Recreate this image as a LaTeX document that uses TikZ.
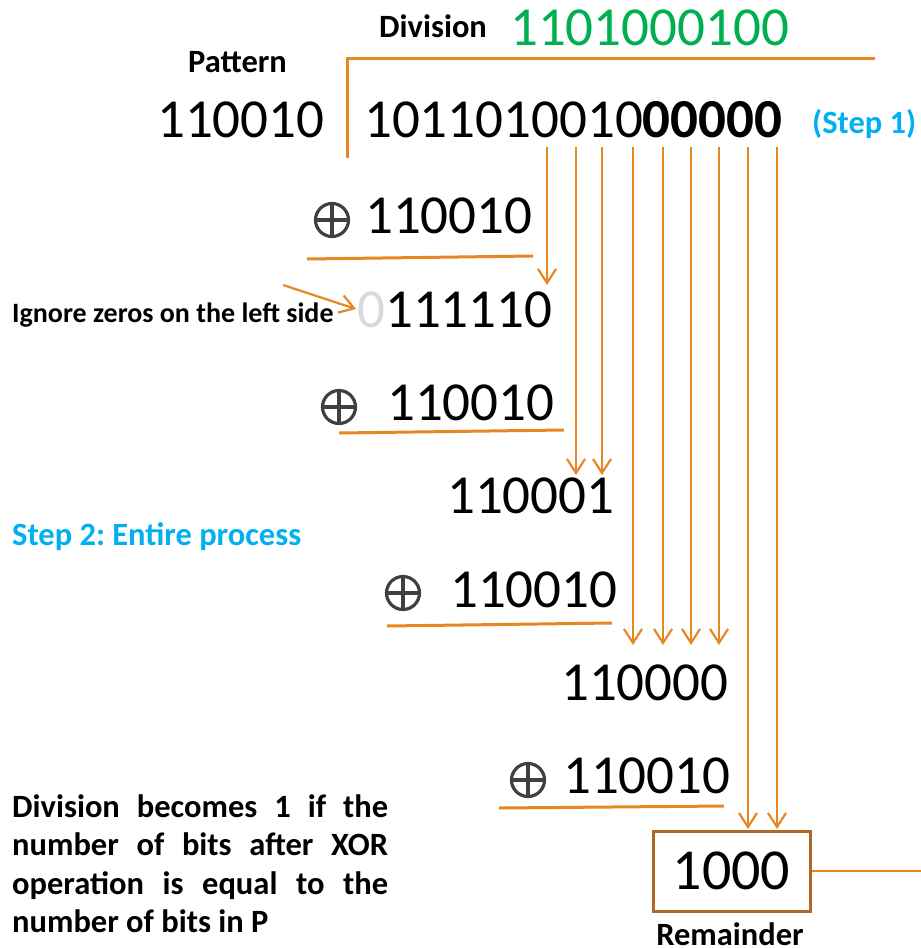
\documentclass[tikz,border=0pt]{standalone}
\usepackage{fontspec}
\setmainfont{Carlito}
\usetikzlibrary{arrows.meta}
\frenchspacing
\definecolor{lineorange}{RGB}{230,135,35}
\definecolor{boxbrown}{RGB}{176,104,40}
\definecolor{xorgray}{RGB}{64,64,64}
\definecolor{ghostgray}{RGB}{217,217,217}
\definecolor{stepcyan}{RGB}{0,176,240}
\definecolor{quotgreen}{RGB}{0,176,80}
\tikzset{
  bits/.style={font=\fontsize{55}{60}\selectfont, inner sep=0pt, anchor=base west},
  lbl/.style={font=\fontsize{32.5}{38.5}\selectfont\bfseries, inner sep=0pt},
  flow/.style={draw=lineorange, line width=2.2pt, -{Straight Barb[length=14pt,width=18pt,line width=2.2pt]}},
  rulebar/.style={draw=lineorange, line width=3pt},
  xorsym/.style={circle, draw=xorgray, line width=3.2pt, minimum size=33pt, inner sep=0pt,
    path picture={\draw[xorgray, line width=3.2pt]
      (path picture bounding box.north) -- (path picture bounding box.south)
      (path picture bounding box.west) -- (path picture bounding box.east);}},
}
\begin{document}
\frenchspacing
\begin{tikzpicture}[x=1pt,y=-1pt]
\useasboundingbox (0,0) rectangle (921,948);
% headings
\node[lbl, anchor=base west] (pat) at (188,72) {Pattern};
\node[lbl, anchor=base west] (div) at (379,37) {Division};
\node[bits, text=quotgreen] (quot) at (510,45) {1101000100};
% bracket
\coordinate (brb) at (347,158);
\coordinate (brr) at (875,58);
\draw[rulebar] (brb) |- (brr);
% row 1
\node[bits] (pnum) at (157,137) {110010};
\node[bits] (dvd) at (364,137) {1011010010\textbf{00000}};
\node[lbl, anchor=base west, text=stepcyan] (s1) at (812,133) {(Step 1)};
% row 2
\node[xorsym] (x1) at (332,220) {};
\node[bits] (r2) at (365,233) {110010};
\coordinate (u1a) at (307,259);
\coordinate (u1b) at (533,256);
\draw[rulebar] (u1a) -- (u1b);
% row 3
\node[bits, text=ghostgray] (z0) at (357,327) {0};
\node[bits] (r3) at (385,327) {111110};
\node[lbl, anchor=base west, font=\fontsize{28}{34}\selectfont\bfseries] (ign) at (12,322) {Ignore zeros on the left side};
\coordinate (ia) at (283,285);
\draw[flow, shorten >=1pt] (ia) -- (z0.west);
% row 4
\node[xorsym] (x2) at (339,407) {};
\node[bits] (r4) at (387,420) {110010};
\coordinate (u2a) at (339,433);
\coordinate (u2b) at (564,430);
\draw[rulebar] (u2a) -- (u2b);
% row 5
\node[bits] (r5) at (447,513) {110001};
\node[lbl, anchor=base west, text=stepcyan] (s2) at (12,545) {Step 2: Entire process};
% row 6
\node[xorsym] (x3) at (403,593) {};
\node[bits] (r6) at (450,607) {110010};
\coordinate (u3a) at (387,626);
\coordinate (u3b) at (612,623);
\draw[rulebar] (u3a) -- (u3b);
% row 7
\node[bits] (r7) at (561,700) {110000};
% row 8
\node[xorsym] (x4) at (528,780) {};
\node[bits] (r8) at (563,793) {110010};
\coordinate (u4a) at (499,808);
\coordinate (u4b) at (724,806);
\draw[rulebar] (u4a) -- (u4b);
% remainder
\node[draw=boxbrown, line width=3pt, minimum width=157pt, minimum height=80pt, inner sep=0pt,
      font=\fontsize{58}{62}\selectfont] (rem) at (731.5,871) {1000};
\node[lbl, anchor=base] (remlbl) at (730,945) {Remainder};
\coordinate (remout) at (921,871);
\draw[rulebar, line width=2.2pt] (rem.east) -- (remout);
% note
\node[lbl, anchor=base west, text width=376pt, align=justify] (note) at (12,817)
  {Division becomes 1 if the\linebreak number of bits after XOR\linebreak operation is equal to the\linebreak number of bits in P};
% bring-down arrows
\foreach \n/\x/\y in {a/547/285, b/576/475, c/602/475, d/633/645, e/663/645, f/691/645, g/719/645, h/748/829, i/777/829}{
  \coordinate (st\n) at (\x,147);
  \coordinate (en\n) at (\x,\y);
  \draw[flow] (st\n) -- (en\n);
}
\end{tikzpicture}
\end{document}
